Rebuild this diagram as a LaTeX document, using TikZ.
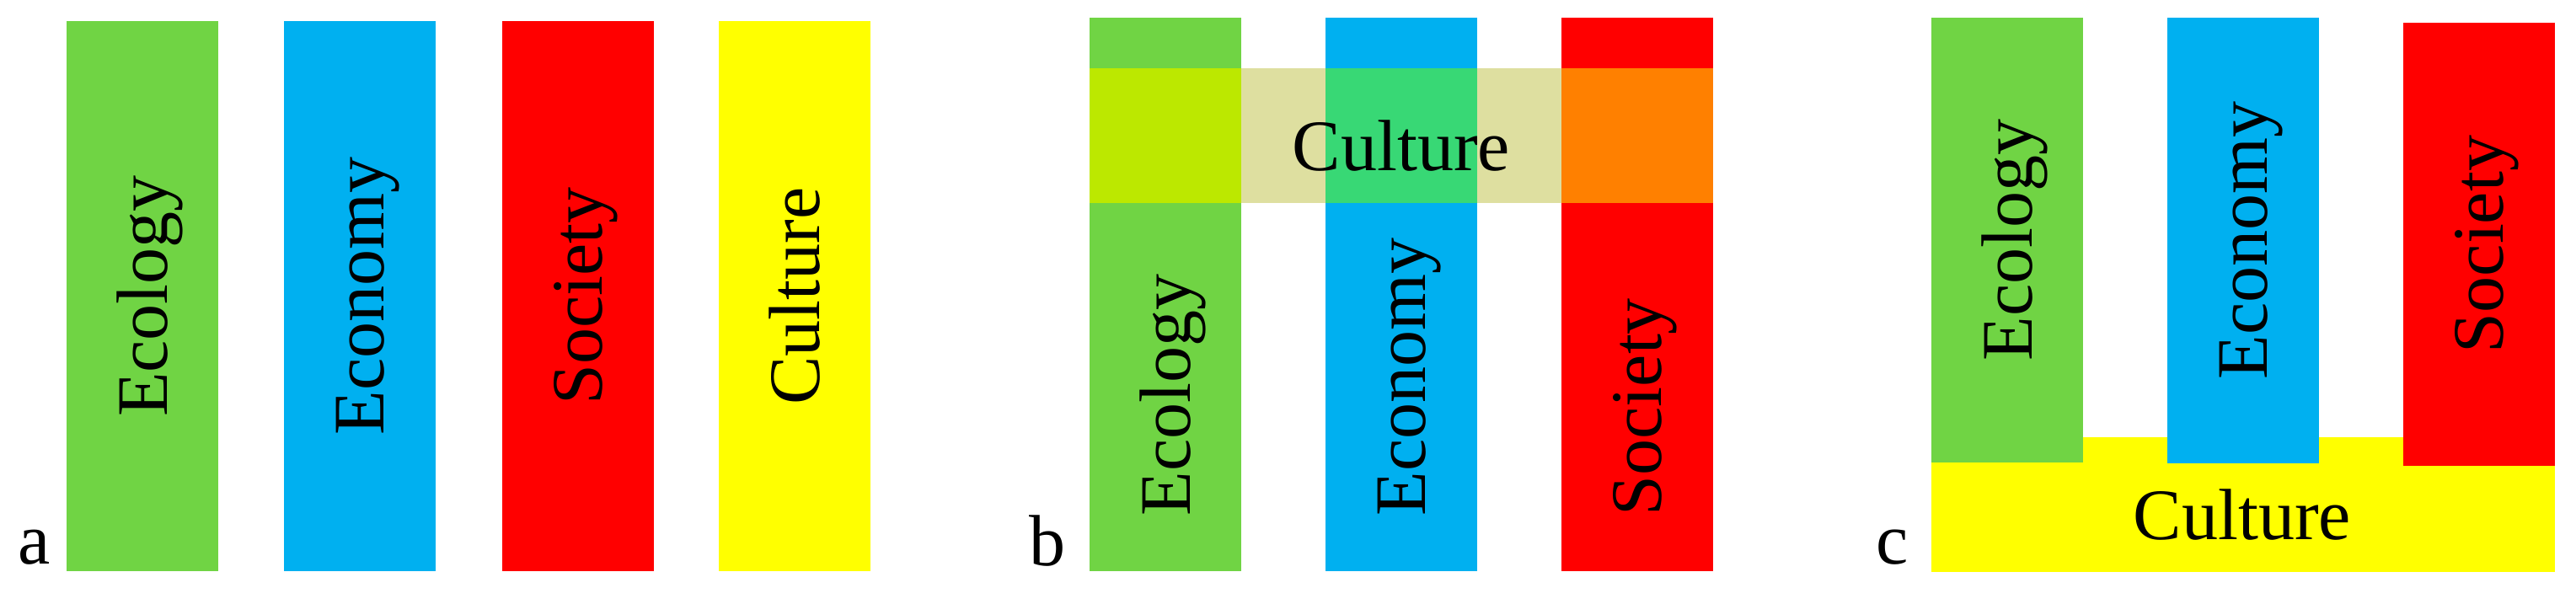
\documentclass[tikz,border=0pt]{standalone}
\usepackage{fontspec}
\setmainfont{Liberation Serif}

\definecolor{ecogreen}{RGB}{112,212,68}
\definecolor{ecoblue}{RGB}{0,176,240}
\definecolor{socred}{RGB}{255,0,0}
\definecolor{culyellow}{RGB}{255,255,0}
\definecolor{culband}{RGB}{222,223,160}
\definecolor{mixgreen}{RGB}{188,232,0}
\definecolor{mixblue}{RGB}{56,216,117}
\definecolor{mixred}{RGB}{255,128,0}

\begin{document}
\begin{tikzpicture}[
	word/.style={font=\fontsize{24.5}{29}\selectfont, inner sep=0pt, text depth=0pt},
	side/.style={word, rotate=90},
	tag/.style={font=\fontsize{24.5}{29}\selectfont, inner sep=0pt, anchor=base}]
	\useasboundingbox (0,0) rectangle (30.57,7.17);

	% a: four pillars side by side
	\fill[ecogreen] (0.79,0.39) rectangle (2.59,6.92);
	\fill[ecoblue] (3.37,0.39) rectangle (5.17,6.92);
	\fill[socred] (5.96,0.39) rectangle (7.76,6.92);
	\fill[culyellow] (8.53,0.39) rectangle (10.33,6.92);

	\node[side] (ecolA) at (1.69,3.655) {Ecology};
	\node[side] (econA) at (4.27,3.655) {Economy};
	\node[side] (socA) at (6.86,3.655) {Society};
	\node[side] (culA) at (9.43,3.655) {Culture};
	\node[tag] (labA) at (0.41,0.47) {a};

	% b: culture band laid across the pillars
	\fill[ecogreen] (12.93,0.39) rectangle (14.73,6.96);
	\fill[ecoblue] (15.73,0.39) rectangle (17.53,6.96);
	\fill[socred] (18.53,0.39) rectangle (20.33,6.96);
	\fill[culband] (12.93,4.76) rectangle (20.33,6.36);
	\fill[mixgreen] (12.93,4.76) rectangle (14.73,6.36);
	\fill[mixblue] (15.73,4.76) rectangle (17.53,6.36);
	\fill[mixred] (18.53,4.76) rectangle (20.33,6.36);

	\node[word, anchor=base] (culB) at (16.63,5.14) {Culture};
	\node[side, anchor=west] (ecolB) at (13.83,1.04) {Ecology};
	\node[side, anchor=west] (econB) at (16.63,1.04) {Economy};
	\node[side, anchor=west] (socB) at (19.43,1.04) {Society};
	\node[tag] (labB) at (12.43,0.45) {b};

	% c: culture as the common base
	\fill[culyellow] (22.92,0.38) rectangle (30.32,1.98);
	\fill[ecogreen] (22.92,1.68) rectangle (24.72,6.96);
	\fill[ecoblue] (25.72,1.67) rectangle (27.52,6.96);
	\fill[socred] (28.52,1.64) rectangle (30.32,6.90);

	\node[side] (ecolC) at (23.82,4.32) {Ecology};
	\node[side] (econC) at (26.62,4.315) {Economy};
	\node[side] (socC) at (29.42,4.27) {Society};
	\node[word, anchor=base] (culC) at (26.61,0.76) {Culture};
	\node[tag] (labC) at (22.46,0.47) {c};
\end{tikzpicture}
\end{document}
